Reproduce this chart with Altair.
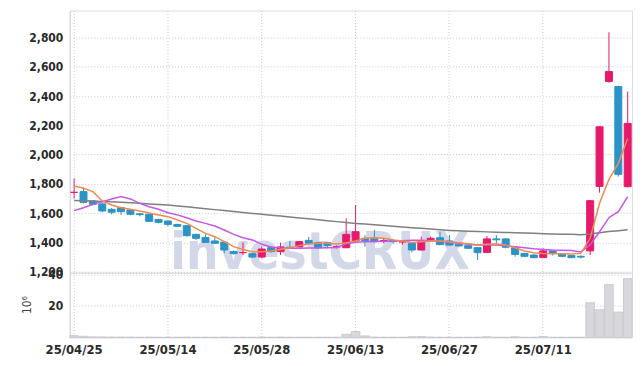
import altair as alt
import pandas as pd

dates = [
    "25/04/25", "25/04/28", "25/04/29", "25/04/30", "25/05/02", "25/05/07", "25/05/08", "25/05/09", "25/05/12", "25/05/13",
    "25/05/14", "25/05/15", "25/05/16", "25/05/19", "25/05/20", "25/05/21", "25/05/22", "25/05/23", "25/05/26", "25/05/27",
    "25/05/28", "25/05/29", "25/05/30", "25/06/02", "25/06/04", "25/06/05", "25/06/09", "25/06/10", "25/06/11", "25/06/12",
    "25/06/13", "25/06/16", "25/06/17", "25/06/18", "25/06/19", "25/06/20", "25/06/23", "25/06/24", "25/06/25", "25/06/26",
    "25/06/27", "25/06/30", "25/07/01", "25/07/02", "25/07/03", "25/07/04", "25/07/07", "25/07/08", "25/07/09", "25/07/10",
    "25/07/11", "25/07/14", "25/07/15", "25/07/16", "25/07/17", "25/07/18", "25/07/21", "25/07/22", "25/07/23", "25/07/24",
]
opens = [1742, 1747, 1683, 1663, 1626, 1637, 1622, 1595, 1592, 1557,
         1546, 1523, 1514, 1455, 1434, 1410, 1400, 1337, 1330, 1323,
         1300, 1364, 1337, 1367, 1369, 1414, 1398, 1398, 1369, 1364,
         1410, 1428, 1428, 1410, 1413, 1403, 1394, 1348, 1418, 1432,
         1410, 1387, 1378, 1364, 1332, 1424, 1424, 1364, 1325, 1314,
         1296, 1342, 1318, 1310, 1305, 1342, 1783, 2500, 2465, 1781]
highs = [1838, 1776, 1690, 1668, 1635, 1640, 1625, 1602, 1596, 1562,
         1552, 1527, 1518, 1460, 1455, 1440, 1403, 1345, 1400, 1328,
         1371, 1375, 1398, 1410, 1410, 1437, 1405, 1400, 1380, 1564,
         1656, 1450, 1485, 1425, 1425, 1415, 1400, 1440, 1440, 1473,
         1450, 1392, 1380, 1368, 1444, 1450, 1428, 1368, 1328, 1318,
         1360, 1345, 1320, 1312, 1312, 1690, 2195, 2835, 2470, 2430]
lows = [1700, 1665, 1652, 1605, 1592, 1588, 1585, 1578, 1540, 1530,
        1510, 1505, 1440, 1417, 1398, 1390, 1325, 1318, 1314, 1295,
        1291, 1330, 1314, 1355, 1366, 1390, 1355, 1360, 1358, 1360,
        1405, 1371, 1400, 1395, 1390, 1385, 1332, 1345, 1405, 1380,
        1378, 1372, 1355, 1280, 1328, 1382, 1360, 1302, 1300, 1292,
        1294, 1310, 1300, 1293, 1290, 1314, 1740, 2490, 1850, 1775]
closes = [1742, 1674, 1660, 1615, 1606, 1610, 1592, 1590, 1544, 1537,
          1523, 1510, 1446, 1428, 1400, 1394, 1348, 1323, 1331, 1300,
          1355, 1337, 1369, 1362, 1405, 1394, 1364, 1378, 1370, 1455,
          1473, 1412, 1405, 1413, 1405, 1405, 1348, 1405, 1428, 1385,
          1382, 1376, 1360, 1330, 1424, 1418, 1367, 1318, 1305, 1296,
          1342, 1325, 1305, 1296, 1300, 1685, 2190, 2567, 1865, 2213]
ma5 = [1786, 1770, 1747, 1683, 1656, 1637, 1626, 1615, 1601, 1588,
       1576, 1553, 1530, 1496, 1462, 1439, 1405, 1371, 1352, 1337,
       1337, 1341, 1352, 1364, 1378, 1389, 1394, 1394, 1389, 1398,
       1410, 1428, 1432, 1428, 1417, 1410, 1400, 1405, 1410, 1410,
       1405, 1398, 1391, 1382, 1387, 1389, 1382, 1364, 1341, 1330,
       1325, 1323, 1323, 1321, 1325, 1428, 1667, 1830, 1940, 2110]
ma10 = [1617, 1637, 1660, 1678, 1697, 1713, 1697, 1667, 1644, 1626,
        1603, 1588, 1569, 1546, 1530, 1512, 1485, 1455, 1432, 1417,
        1387, 1369, 1362, 1360, 1360, 1361, 1362, 1364, 1366, 1391,
        1401, 1405, 1407, 1408, 1410, 1412, 1414, 1414, 1412, 1408,
        1401, 1395, 1388, 1382, 1382, 1382, 1378, 1371, 1364, 1357,
        1352, 1348, 1346, 1344, 1335, 1385, 1473, 1569, 1610, 1713]
ma60 = [1687, 1685, 1683, 1680, 1677, 1674, 1671, 1667, 1663, 1659,
        1655, 1649, 1643, 1637, 1630, 1624, 1618, 1611, 1605, 1598,
        1592, 1586, 1580, 1574, 1567, 1561, 1555, 1548, 1542, 1536,
        1530, 1525, 1520, 1515, 1510, 1505, 1501, 1496, 1491, 1486,
        1482, 1479, 1477, 1475, 1472, 1470, 1468, 1466, 1464, 1462,
        1460, 1458, 1456, 1455, 1453, 1458, 1466, 1474, 1480, 1487]
volume = [1.2, 0.8, 0.4, 0.4, 0.3, 0.3, 0.3, 0.2, 0.3, 0.2,
          0.2, 0.2, 0.3, 0.2, 0.2, 0.2, 0.3, 0.2, 0.2, 0.2,
          0.3, 0.2, 0.3, 0.2, 0.2, 0.2, 0.2, 0.2, 0.2, 2.0,
          3.8, 1.0, 0.3, 0.2, 0.2, 0.2, 0.5, 0.6, 0.3, 0.2,
          0.2, 0.2, 0.2, 0.2, 0.5, 0.2, 0.2, 0.5, 0.2, 0.2,
          0.6, 0.2, 0.2, 0.2, 0.2, 22.0, 17.6, 33.5, 16.1, 37.3]
tick_dates = ["25/04/25", "25/05/14", "25/05/28", "25/06/13", "25/06/27", "25/07/11"]
price_ticks = [1200, 1400, 1600, 1800, 2000, 2200, 2400, 2600, 2800]
volume_ticks = [20, 40]

df = pd.DataFrame({
    "date": dates, "open": opens, "high": highs, "low": lows, "close": closes,
    "ma5": ma5, "ma10": ma10, "ma60": ma60, "vol": volume,
})
df["dir"] = ["up" if c >= o else "down" for o, c in zip(opens, closes)]

FONT = "DejaVu Sans Condensed"
GRID = "#c3c9dc"
RED = "#e6196a"
BLUE = "#2b93c6"

xscale = alt.Scale(domain=dates, paddingInner=0.08, paddingOuter=0)
yscale = alt.Scale(domain=[1193, 2984], nice=False, zero=False)
dir_scale = alt.Scale(domain=["up", "down"], range=[RED, BLUE])
color = alt.Color("dir:N", scale=dir_scale, legend=None)

x_top = alt.X("date:O", scale=xscale, sort=None,
              axis=alt.Axis(values=tick_dates, labels=False, ticks=False, domain=False, title=None,
                            grid=True, gridColor=GRID, gridDash=[1, 2], bandPosition=0.5,
                            minExtent=0, maxExtent=0, labelPadding=0))
price_axis = alt.Axis(values=price_ticks, format=",d", title=None, ticks=False,
                      domain=True, domainColor="#d4d4d8", grid=True, gridColor=GRID,
                      gridDash=[1, 2], labelFont=FONT, labelFontSize=12, labelFontWeight="bold",
                      labelColor="#2a2a2a", labelPadding=7, labelOverlap=False,
                      minExtent=61, maxExtent=61)


def py(field):
    return alt.Y(field, type="quantitative", scale=yscale, axis=price_axis)


base = alt.Chart(df)

watermark = alt.Chart(pd.DataFrame({"t": ["investCRUX"]})).mark_text(
    font=FONT, fontSize=51, fontWeight="bold", color="#d3d8e8", align="center", baseline="bottom"
).encode(text="t:N", x=alt.value(251), y=alt.value(270))

wicks = base.mark_rule(strokeWidth=1).encode(x=x_top, y=py("low"), y2="high:Q", color=color)
bodies = base.mark_bar(size=7, strokeWidth=1).encode(
    x=x_top, y=py("open"), y2="close:Q", color=color,
    stroke=alt.Stroke("dir:N", scale=dir_scale, legend=None))
l60 = base.mark_line(color="#7f7f7f", strokeWidth=1.5).encode(x=x_top, y=py("ma60"))
l10 = base.mark_line(color="#c757e6", strokeWidth=1.5).encode(x=x_top, y=py("ma10"))
l5 = base.mark_line(color="#ef8a50", strokeWidth=1.5).encode(x=x_top, y=py("ma5"))

price = alt.layer(watermark, wicks, bodies, l60, l10, l5).properties(width=564, height=263)

x_bot = alt.X("date:O", scale=xscale, sort=None,
              axis=alt.Axis(values=tick_dates, title=None, ticks=False, domain=False, labelAngle=0,
                            grid=True, gridColor=GRID, gridDash=[1, 2], bandPosition=0.5,
                            labelFont=FONT, labelFontSize=13, labelFontWeight="bold",
                            labelColor="#2a2a2a", labelPadding=6))
vol = base.mark_bar(color="#d7d7dc", stroke="#c4c4ca", strokeWidth=0.8).encode(
    x=x_bot,
    y=alt.Y("vol:Q", scale=alt.Scale(domain=[0, 41], nice=False),
            axis=alt.Axis(values=volume_ticks, title="10⁶", ticks=False, domain=True,
                          domainColor="#d4d4d8", grid=True, gridColor=GRID, gridDash=[1, 2],
                          labelFont=FONT, labelFontSize=12, labelFontWeight="bold",
                          labelColor="#2a2a2a", labelPadding=7,
                          minExtent=61, maxExtent=61, titleFont=FONT, titleFontSize=12,
                          titleFontWeight="normal", titleColor="#444", titleX=-36, titleY=32)),
).properties(width=564, height=65)

chart = alt.vconcat(price, vol, spacing=0, bounds="flush").configure_view(stroke="#dcdce0").properties(
    padding={"left": 0, "top": 1, "right": 2, "bottom": 0})

chart.save("out.html", embed_options={"renderer": "svg", "actions": False})
